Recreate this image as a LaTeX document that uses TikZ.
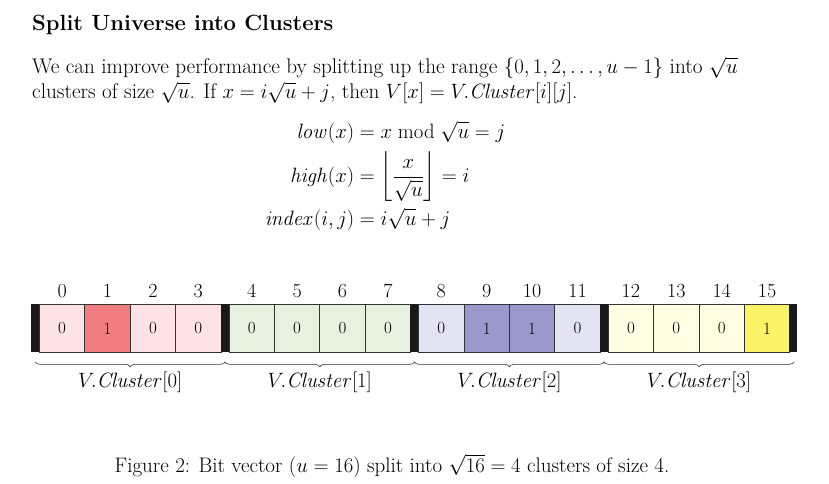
\documentclass[tikz,border=0pt]{standalone}
\usepackage{amsmath}
\usetikzlibrary{decorations.pathreplacing}
\definecolor{pinkA}{HTML}{FDE3E4}\definecolor{pinkB}{HTML}{F07E80}
\definecolor{greenA}{HTML}{E6F2DF}
\definecolor{blueA}{HTML}{E3E3F3}\definecolor{blueB}{HTML}{9B99CC}
\definecolor{yellA}{HTML}{FFFEE3}\definecolor{yellB}{HTML}{FBF466}
\tikzset{
  bitcell/.style={draw=black!80, line width=0.8pt, minimum width=45.4pt, minimum height=48pt, inner sep=0pt, anchor=north west, font=\fontsize{17}{20}\selectfont},
  idx/.style={font=\fontsize{20}{22}\selectfont},
  clusterbrace/.style={decorate, decoration={brace, mirror, amplitude=5pt}, draw=black!80, line width=0.6pt},
  txt/.style={font=\fontsize{21.2}{24}\selectfont, anchor=west, inner sep=0pt}
}
\begin{document}
\begin{tikzpicture}[x=1pt,y=-1pt]
\useasboundingbox (0,0) rectangle (829,484);
% heading and text
\node[anchor=west, inner sep=0pt, font=\fontsize{22}{24}\selectfont\bfseries] (title) at (32,25) {Split Universe into Clusters};
\node[txt] (line1) at (32,68) {We can improve performance by splitting up the range $\{0,1,2,\dots,u-1\}$ into $\sqrt{u}$};
\node[txt] (line2) at (32,93) {clusters of size $\sqrt{u}$. If $x=i\sqrt{u}+j$, then $V[x]=V.\mathit{Cluster}[i][j]$.};
\node[font=\fontsize{21}{24}\selectfont, inner sep=0pt] (eqs) at (385,177) {$\begin{aligned}
  \mathit{low}(x) &= x \bmod \sqrt{u} = j\\[2pt]
  \mathit{high}(x) &= \left\lfloor \frac{x}{\sqrt{u}} \right\rfloor = i\\[2pt]
  \mathit{index}(i,j) &= i\sqrt{u}+j
\end{aligned}$};
% bit vector
\foreach \c/\lite/\dark/\bits in {0/pinkA/pinkB/{0,1,0,0}, 1/greenA/greenA/{0,0,0,0}, 2/blueA/blueB/{0,1,1,0}, 3/yellA/yellB/{0,0,0,1}} {
  \fill[black!90] (31+\c*189.6,304) rectangle ++(8,48);
  \foreach \b [count=\j from 0] in \bits {
    \pgfmathtruncatemacro{\k}{4*\c+\j}
    \ifnum\b=1 \def\fc{\dark}\else\def\fc{\lite}\fi
    \node[bitcell, fill=\fc] (cell\k) at (39+\c*189.6+\j*45.4,304) {\b};
    \node[idx] (num\k) at ([yshift=13pt]cell\k.north) {\k};
  }
  \draw[clusterbrace] ([xshift=-4pt,yshift=-9pt]cell\the\numexpr4*\c\relax.south west) -- ([xshift=4pt,yshift=-9pt]cell\the\numexpr4*\c+3\relax.south east)
    node[midway, below=7pt, font=\fontsize{20}{22}\selectfont] (label\c) {$V.\mathit{Cluster}[\c]$};
}
\fill[black!90] (789,304) rectangle ++(8,48);
% caption
\node[font=\fontsize{21}{24}\selectfont] (caption) at (392,466) {Figure 2: Bit vector ($u=16$) split into $\sqrt{16}=4$ clusters of size 4.};
\end{tikzpicture}
\end{document}
